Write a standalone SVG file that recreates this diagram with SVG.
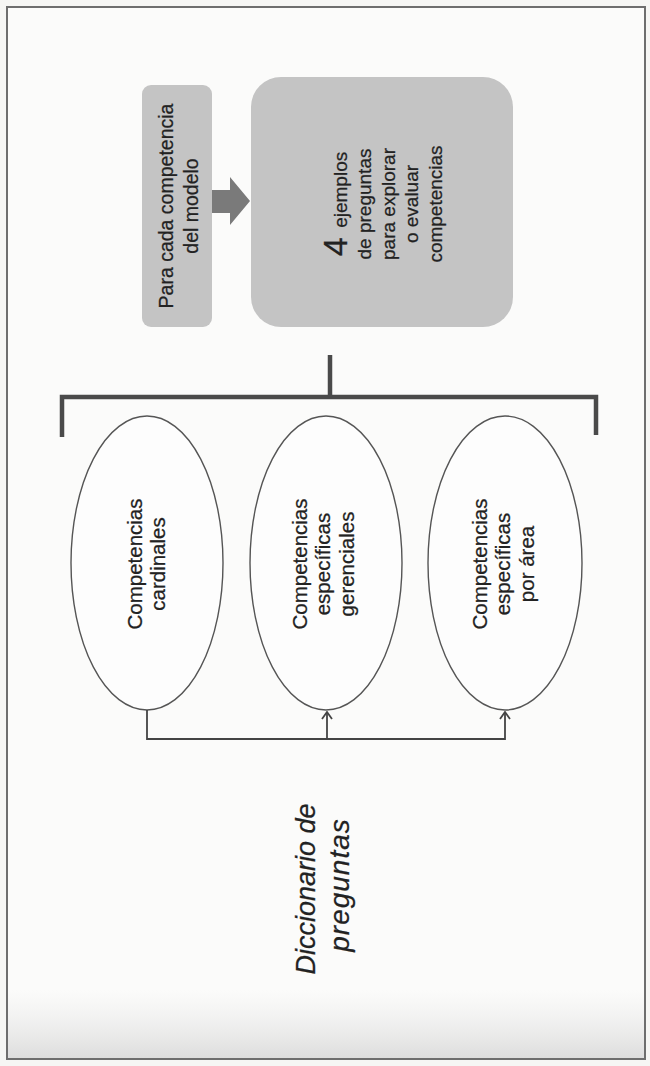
<svg xmlns="http://www.w3.org/2000/svg" width="650" height="1066" viewBox="0 0 650 1066">
<defs>
<style>
.t{font-family:"Liberation Sans",Arial,sans-serif;fill:#222;text-anchor:middle;stroke:#222;stroke-width:0.25}
.box{fill:#c4c4c4}
.ell{fill:#fdfdfd;stroke:#555;stroke-width:1.4}
.br{fill:none;stroke:#4a4a4a;stroke-width:4.5;stroke-linejoin:miter}
.cn{fill:none;stroke:#444;stroke-width:1.8}
</style>
<marker id="chev" viewBox="0 0 14 14" refX="13" refY="7" markerWidth="14" markerHeight="14" orient="auto" markerUnits="userSpaceOnUse">
<path d="M6,2 L13,7 L6,12" fill="none" stroke="#444" stroke-width="1.8"/>
</marker>
<linearGradient id="scan" x1="0" y1="0" x2="0" y2="1">
<stop offset="0" stop-color="#e6e6e6" stop-opacity="0"/>
<stop offset="1" stop-color="#d8d8d8" stop-opacity="0.85"/>
</linearGradient>
</defs>
<rect x="0" y="0" width="650" height="1066" fill="#f6f6f4"/>
<rect x="7" y="7" width="638" height="1052" fill="#fbfbfa" stroke="#6e6e6e" stroke-width="2"/>
<rect x="8" y="990" width="636" height="68" fill="url(#scan)"/>

<g id="box-para-cada">
<rect class="box" x="142" y="85" width="70" height="242" rx="9"/>
<text class="t" font-size="19.5" transform="translate(172.5,206) rotate(-90)">Para cada competencia</text>
<text class="t" font-size="19.5" transform="translate(198,206) rotate(-90)">del modelo</text>
</g>

<g id="box-ejemplos">
<rect class="box" x="251" y="77" width="262" height="250" rx="30"/>
<text class="t" font-size="19" transform="translate(347,204) rotate(-90)"><tspan font-size="34">4 </tspan>ejemplos</text>
<text class="t" font-size="19" transform="translate(371,204) rotate(-90)">de preguntas</text>
<text class="t" font-size="19" transform="translate(395,204) rotate(-90)">para explorar</text>
<text class="t" font-size="19" transform="translate(418,204) rotate(-90)">o evaluar</text>
<text class="t" font-size="19" transform="translate(442,204) rotate(-90)">competencias</text>
</g>

<g id="ell-cardinales">
<ellipse class="ell" cx="147" cy="563" rx="76" ry="147"/>
<text class="t" font-size="20.5" transform="translate(142,564) rotate(-90)">Competencias</text>
<text class="t" font-size="20.5" transform="translate(165,564) rotate(-90)">cardinales</text>
</g>

<g id="ell-gerenciales">
<ellipse class="ell" cx="326" cy="563" rx="76" ry="147"/>
<text class="t" font-size="20.5" transform="translate(307,564) rotate(-90)">Competencias</text>
<text class="t" font-size="20.5" transform="translate(330,564) rotate(-90)">específicas</text>
<text class="t" font-size="20.5" transform="translate(354,564) rotate(-90)">gerenciales</text>
</g>

<g id="ell-area">
<ellipse class="ell" cx="505" cy="563" rx="77" ry="147"/>
<text class="t" font-size="20.5" transform="translate(487,564) rotate(-90)">Competencias</text>
<text class="t" font-size="20.5" transform="translate(510,564) rotate(-90)">específicas</text>
<text class="t" font-size="20.5" transform="translate(534,564) rotate(-90)">por área</text>
</g>

<g id="titulo">
<text class="t" font-size="27" font-style="italic" transform="translate(315,889) rotate(-90)">Diccionario de</text>
<text class="t" font-size="28" font-style="italic" letter-spacing="1" transform="translate(349,885) rotate(-90)">preguntas</text>
</g>

<g id="connectors">
<polygon points="212,190 230,190 230,177 250,201 230,225 230,213 212,213" fill="#7a7a7a"/>
<path class="br" d="M62,437 V397 H596 V435"/>
<path class="br" d="M330,355 V397"/>
<path class="cn" d="M147,710 V739 H505 V712" marker-end="url(#chev)"/>
<path class="cn" d="M327,739 V712" marker-end="url(#chev)"/>
</g>
</svg>
